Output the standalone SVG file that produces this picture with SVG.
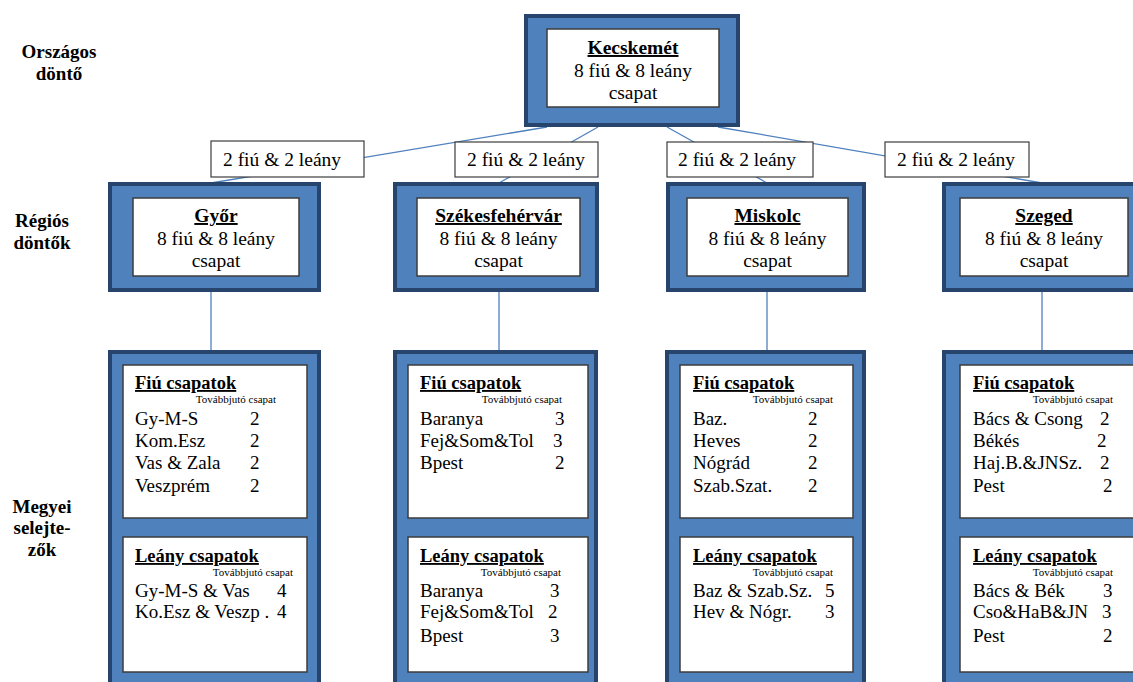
<svg xmlns="http://www.w3.org/2000/svg" width="1133" height="682" viewBox="0 0 1133 682" font-family="'Liberation Serif', 'Times New Roman', serif">
<style>
text{font-family:'Liberation Serif','Times New Roman',serif;fill:#000}
.outer{fill:#4F81BD;stroke:#26446C;stroke-width:4}
.inner{fill:#fff;stroke:#3C3C3C;stroke-width:1.5}
.lbl{fill:#fff;stroke:#3C3C3C;stroke-width:1.2}
.conn{stroke:#4F81BD;stroke-width:1.3;fill:none}
.side{font-size:19px;font-weight:bold;text-anchor:middle}
.ttl{font-size:19.5px;font-weight:bold;text-decoration:underline;text-anchor:middle}
.txt{font-size:19.5px;text-anchor:middle}
.lt{font-size:19.5px}
.hd{font-size:18.5px;font-weight:bold;text-decoration:underline}
.sm{font-size:11px;text-anchor:end}
.row{font-size:19px}
</style>
<rect width="1133" height="682" fill="#fff"/>

<g id="side-labels">
<text class="side" x="59" y="58">Országos</text>
<text class="side" x="59" y="80">döntő</text>
<text class="side" x="42" y="227">Régiós</text>
<text class="side" x="42" y="249">döntők</text>
<text class="side" x="42" y="513">Megyei</text>
<text class="side" x="42" y="534">selejte-</text>
<text class="side" x="42" y="556">zők</text>
</g>

<g id="connectors">
<line class="conn" x1="547" y1="127" x2="211" y2="183"/>
<line class="conn" x1="598" y1="127" x2="499" y2="183"/>
<line class="conn" x1="667" y1="127" x2="767" y2="183"/>
<line class="conn" x1="718" y1="127" x2="1042" y2="183"/>
<line class="conn" x1="211" y1="292" x2="211" y2="350"/>
<line class="conn" x1="499" y1="292" x2="499" y2="350"/>
<line class="conn" x1="767" y1="292" x2="767" y2="350"/>
<line class="conn" x1="1042" y1="292" x2="1042" y2="350"/>
</g>

<g id="kecskemet">
<rect class="outer" x="526" y="16" width="212" height="109"/>
<rect class="inner" x="547" y="29" width="172" height="78"/>
<text class="ttl" x="633" y="54">Kecskemét</text>
<text class="txt" x="633" y="77">8 fiú &amp; 8 leány</text>
<text class="txt" x="633" y="99">csapat</text>
</g>

<g id="label-gyor">
<rect class="lbl" x="211" y="141" width="153" height="36"/>
<text class="lt" x="223" y="166">2 fiú &amp; 2 leány</text>
</g>
<g id="label-szekesfehervar">
<rect class="lbl" x="455" y="142" width="143" height="35"/>
<text class="lt" x="467" y="166">2 fiú &amp; 2 leány</text>
</g>
<g id="label-miskolc">
<rect class="lbl" x="667" y="142" width="146" height="35"/>
<text class="lt" x="678" y="166">2 fiú &amp; 2 leány</text>
</g>
<g id="label-szeged">
<rect class="lbl" x="885" y="142" width="144" height="35"/>
<text class="lt" x="897" y="166">2 fiú &amp; 2 leány</text>
</g>

<g id="gyor">
<rect class="outer" x="110" y="184" width="209" height="106"/>
<rect class="inner" x="133" y="198" width="166" height="78"/>
<text class="ttl" x="216" y="222">Győr</text>
<text class="txt" x="216" y="245">8 fiú &amp; 8 leány</text>
<text class="txt" x="216" y="267">csapat</text>
</g>
<g id="szekesfehervar">
<rect class="outer" x="395" y="184" width="202" height="106"/>
<rect class="inner" x="417" y="198" width="163" height="78"/>
<text class="ttl" x="498.5" y="222">Székesfehérvár</text>
<text class="txt" x="498.5" y="245">8 fiú &amp; 8 leány</text>
<text class="txt" x="498.5" y="267">csapat</text>
</g>
<g id="miskolc">
<rect class="outer" x="668" y="184" width="196" height="106"/>
<rect class="inner" x="687" y="198" width="161" height="78"/>
<text class="ttl" x="767.5" y="222">Miskolc</text>
<text class="txt" x="767.5" y="245">8 fiú &amp; 8 leány</text>
<text class="txt" x="767.5" y="267">csapat</text>
</g>
<g id="szeged">
<rect class="outer" x="944" y="184" width="200" height="106"/>
<rect class="inner" x="960" y="198" width="168" height="78"/>
<text class="ttl" x="1044" y="222">Szeged</text>
<text class="txt" x="1044" y="245">8 fiú &amp; 8 leány</text>
<text class="txt" x="1044" y="267">csapat</text>
</g>

<g id="megyei-gyor">
<rect class="outer" x="110" y="352" width="209" height="360"/>
<rect class="inner" x="123" y="365" width="184" height="153"/>
<text class="hd" x="135" y="389">Fiú csapatok</text>
<text class="sm" x="276" y="403">Továbbjutó csapat</text>
<text class="row" y="425"><tspan x="135">Gy-M-S </tspan><tspan x="250">2</tspan></text>
<text class="row" y="447"><tspan x="135">Kom.Esz </tspan><tspan x="250">2</tspan></text>
<text class="row" y="469"><tspan x="135">Vas &amp; Zala </tspan><tspan x="250">2</tspan></text>
<text class="row" y="492"><tspan x="135">Veszprém </tspan><tspan x="250">2</tspan></text>
<rect class="inner" x="123" y="537" width="184" height="135"/>
<text class="hd" x="135" y="562">Leány csapatok</text>
<text class="sm" x="293" y="576">Továbbjutó csapat</text>
<text class="row" y="597"><tspan x="135">Gy-M-S &amp; Vas </tspan><tspan x="277">4</tspan></text>
<text class="row" y="618"><tspan x="135">Ko.Esz &amp; Veszp . </tspan><tspan x="277">4</tspan></text>
</g>

<g id="megyei-szekesfehervar">
<rect class="outer" x="395" y="352" width="201" height="360"/>
<rect class="inner" x="408" y="365" width="180" height="153"/>
<text class="hd" x="420" y="389">Fiú csapatok</text>
<text class="sm" x="562" y="403">Továbbjutó csapat</text>
<text class="row" y="425"><tspan x="420">Baranya </tspan><tspan x="555">3</tspan></text>
<text class="row" y="447"><tspan x="420">Fej&amp;Som&amp;Tol </tspan><tspan x="553">3</tspan></text>
<text class="row" y="469"><tspan x="420">Bpest </tspan><tspan x="555">2</tspan></text>
<rect class="inner" x="408" y="537" width="180" height="135"/>
<text class="hd" x="420" y="562">Leány csapatok</text>
<text class="sm" x="561" y="576">Továbbjutó csapat</text>
<text class="row" y="597"><tspan x="420">Baranya </tspan><tspan x="550">3</tspan></text>
<text class="row" y="618"><tspan x="420">Fej&amp;Som&amp;Tol </tspan><tspan x="548">2</tspan></text>
<text class="row" y="642"><tspan x="420">Bpest </tspan><tspan x="550">3</tspan></text>
</g>

<g id="megyei-miskolc">
<rect class="outer" x="667" y="352" width="197" height="360"/>
<rect class="inner" x="680" y="365" width="173" height="153"/>
<text class="hd" x="693" y="389">Fiú csapatok</text>
<text class="sm" x="833" y="403">Továbbjutó csapat</text>
<text class="row" y="425"><tspan x="693">Baz. </tspan><tspan x="808">2</tspan></text>
<text class="row" y="447"><tspan x="693">Heves </tspan><tspan x="808">2</tspan></text>
<text class="row" y="469"><tspan x="693">Nógrád </tspan><tspan x="808">2</tspan></text>
<text class="row" y="492"><tspan x="693">Szab.Szat. </tspan><tspan x="808">2</tspan></text>
<rect class="inner" x="680" y="537" width="173" height="135"/>
<text class="hd" x="693" y="562">Leány csapatok</text>
<text class="sm" x="833" y="576">Továbbjutó csapat</text>
<text class="row" y="597"><tspan x="693">Baz &amp; Szab.Sz. </tspan><tspan x="825">5</tspan></text>
<text class="row" y="618"><tspan x="693">Hev &amp; Nógr. </tspan><tspan x="825">3</tspan></text>
</g>

<g id="megyei-szeged">
<rect class="outer" x="944" y="352" width="200" height="360"/>
<rect class="inner" x="960" y="365" width="190" height="153"/>
<text class="hd" x="973" y="389">Fiú csapatok</text>
<text class="sm" x="1113" y="403">Továbbjutó csapat</text>
<text class="row" y="425"><tspan x="973">Bács &amp; Csong </tspan><tspan x="1100">2</tspan></text>
<text class="row" y="447"><tspan x="973">Békés </tspan><tspan x="1097">2</tspan></text>
<text class="row" y="469"><tspan x="973">Haj.B.&amp;JNSz. </tspan><tspan x="1100">2</tspan></text>
<text class="row" y="492"><tspan x="973">Pest </tspan><tspan x="1103">2</tspan></text>
<rect class="inner" x="960" y="537" width="190" height="135"/>
<text class="hd" x="973" y="562">Leány csapatok</text>
<text class="sm" x="1113" y="576">Továbbjutó csapat</text>
<text class="row" y="597"><tspan x="973">Bács &amp; Bék </tspan><tspan x="1103">3</tspan></text>
<text class="row" y="618"><tspan x="973">Cso&amp;HaB&amp;JN </tspan><tspan x="1102">3</tspan></text>
<text class="row" y="642"><tspan x="973">Pest </tspan><tspan x="1103">2</tspan></text>
</g>
</svg>
